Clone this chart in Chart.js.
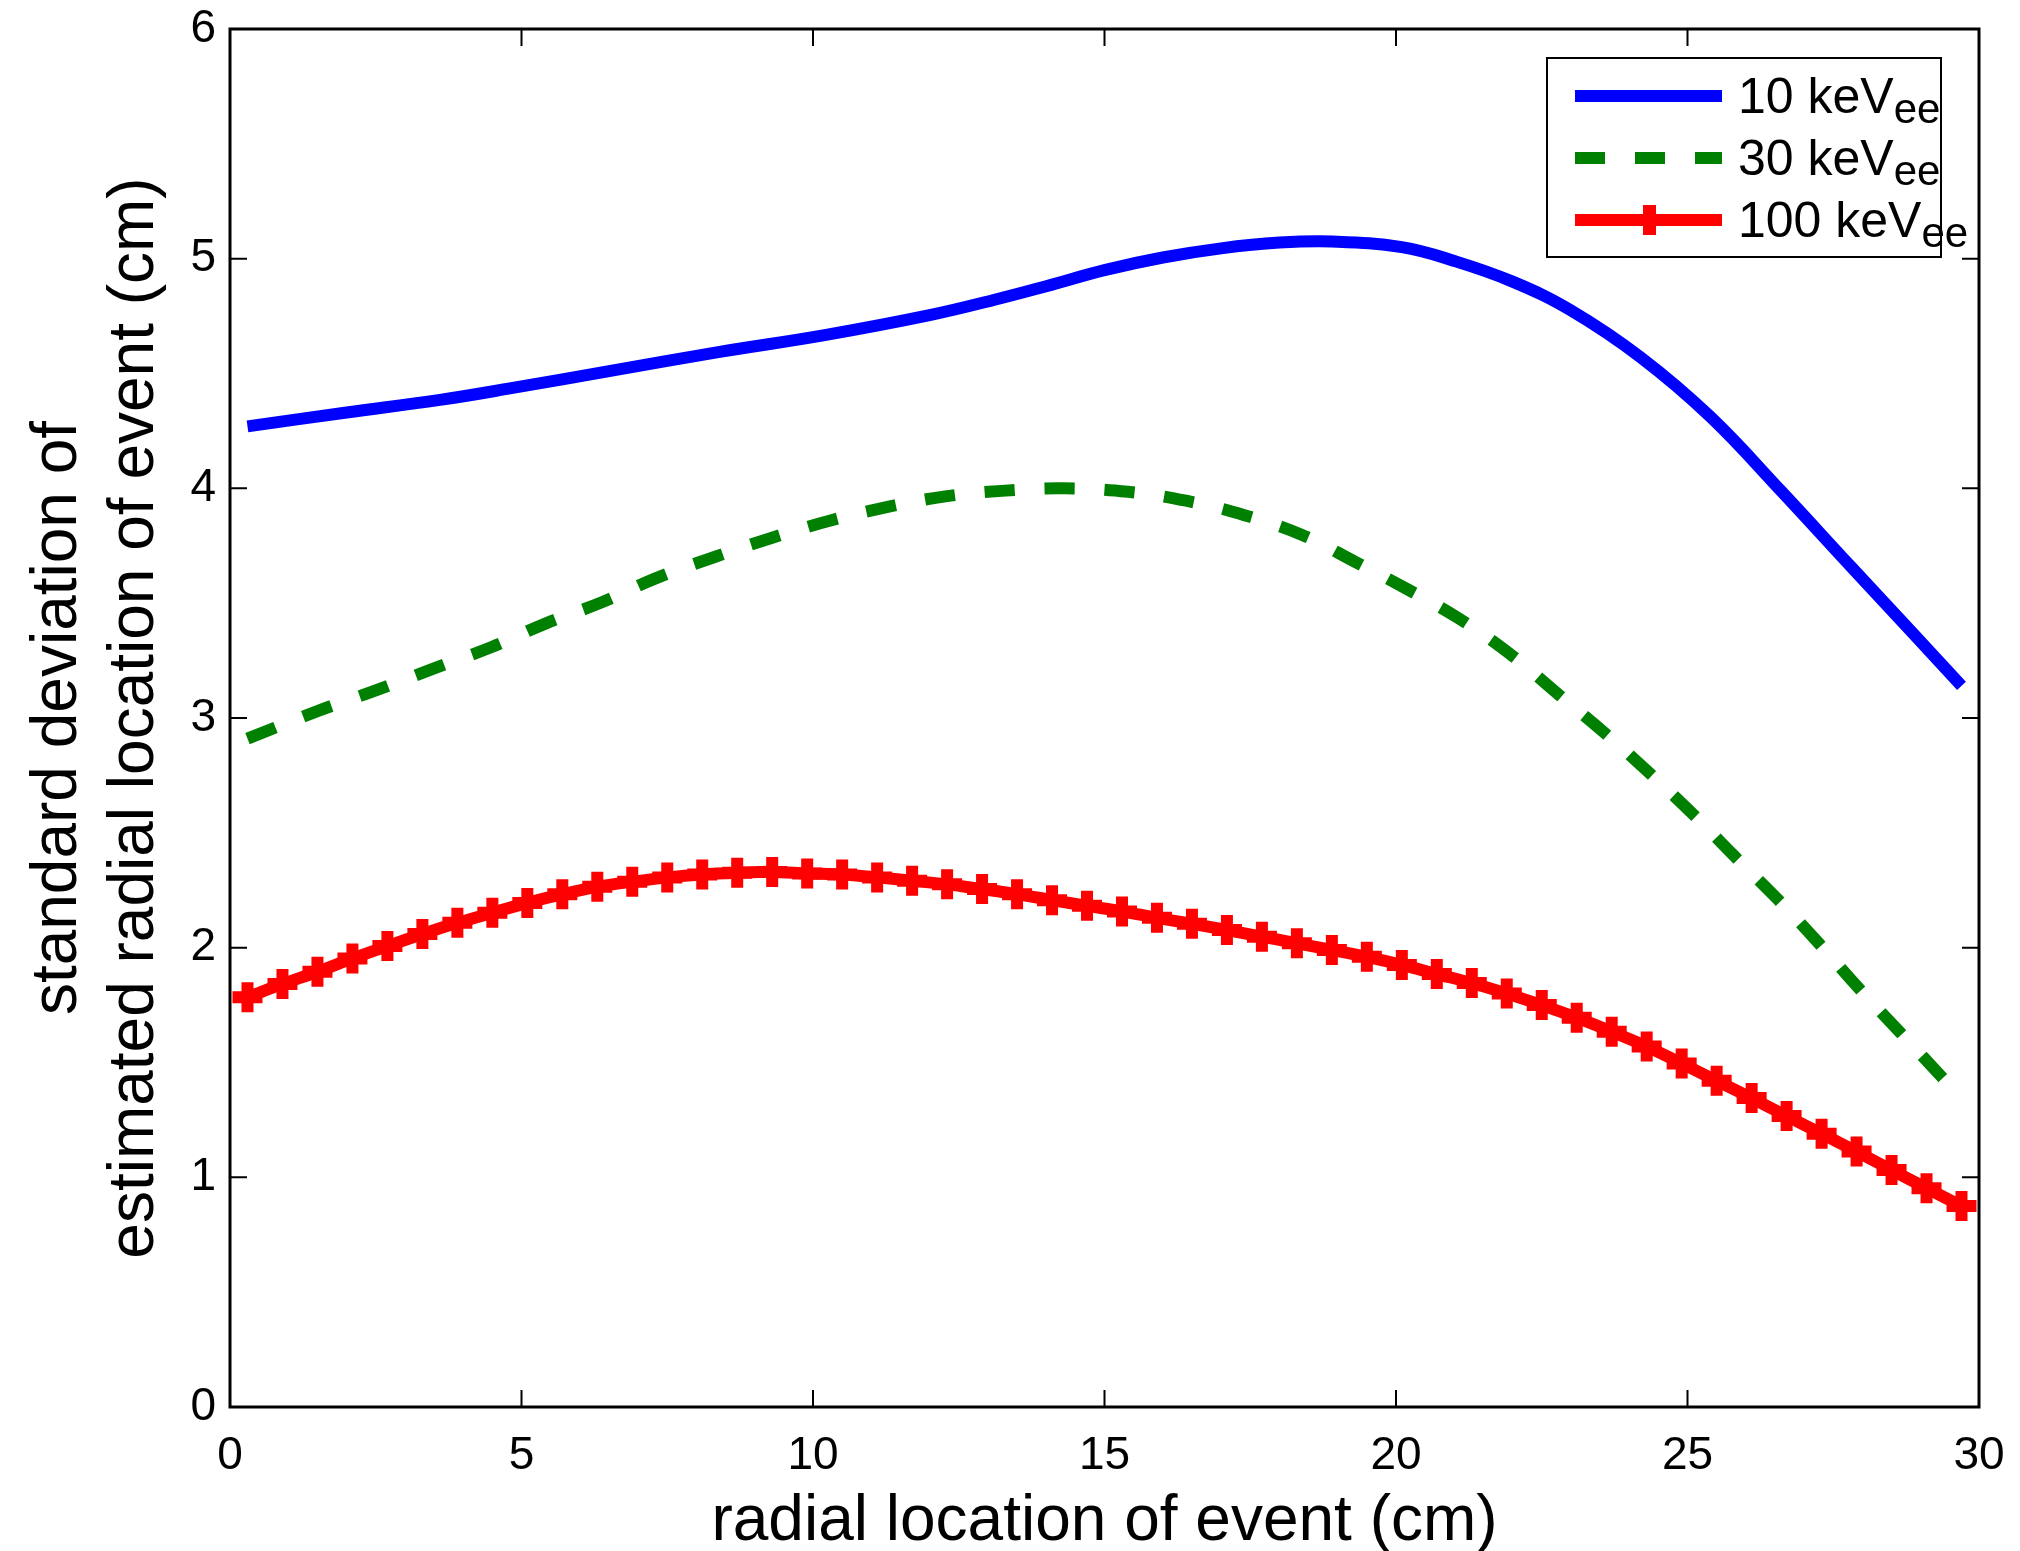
<!DOCTYPE html>
<html>
<head>
<meta charset="utf-8">
<script src="https://cdn.jsdelivr.net/npm/chart.js@4.4.1/dist/chart.umd.min.js"></script>
<style>
  body { margin: 0; background: #fff; }
  #wrap { position: relative; width: 2020px; height: 1551px; }
  #legend {
    position: absolute; left: 1546px; top: 57px; width: 392px; height: 197px;
    border: 2px solid #000; background: #fff;
    font-family: "Liberation Sans", Arial, sans-serif; color: #000;
  }
  .sample { position: absolute; left: 27px; width: 147px; height: 12px; }
  .mark { position: absolute; left: 95px; width: 13px; height: 30px; }
  .label { position: absolute; left: 190px; font-size: 50px; line-height: 50px; white-space: nowrap; }
  .label sub { font-size: 42px; vertical-align: -10px; line-height: 0; }
</style>
</head>
<body>
<div id="wrap">
  <canvas id="grafico" width="2020" height="1551"></canvas>
  <div id="legend"></div>
</div>
<script>
// 10 keVee
const r10 = [0.3, 2.0, 3.6, 4.8, 6.6, 8.4, 10.2, 12.0, 13.1, 14.0, 15.0, 16.0, 17.0, 18.0, 18.9, 20.1, 21.0, 22.0, 23.0, 24.2, 25.4, 26.6, 27.8, 28.9, 29.7];
const sigma10 = [4.27, 4.33, 4.385, 4.435, 4.515, 4.594, 4.667, 4.754, 4.82, 4.88, 4.95, 5.005, 5.045, 5.07, 5.075, 5.05, 4.99, 4.90, 4.775, 4.57, 4.31, 3.99, 3.66, 3.36, 3.14];

// 30 keVee
const r30 = [0.3, 1.5, 2.5, 3.5, 4.5, 5.4, 6.4, 7.3, 8.3, 9.3, 10.3, 11.3, 12.3, 13.3, 14.3, 15.4, 16.4, 17.4, 18.4, 19.3, 20.2, 21.1, 22.0, 22.8, 23.6, 24.35, 25.1, 25.8, 26.55, 27.25, 27.95, 28.65, 29.35, 29.7];
const sigma30 = [2.91, 3.03, 3.12, 3.216, 3.31, 3.41, 3.506, 3.608, 3.70, 3.785, 3.86, 3.92, 3.966, 3.99, 4.0, 3.985, 3.946, 3.883, 3.796, 3.68, 3.56, 3.43, 3.27, 3.10, 2.93, 2.76, 2.58, 2.40, 2.21, 2.02, 1.82, 1.63, 1.44, 1.34];

// 100 keVee
const r100 = [0.3, 0.9, 1.5, 2.1, 2.7, 3.3, 3.9, 4.5, 5.1, 5.7, 6.3, 6.9, 7.5, 8.1, 8.7, 9.3, 9.9, 10.5, 11.1, 11.7, 12.3, 12.9, 13.5, 14.1, 14.7, 15.3, 15.9, 16.5, 17.1, 17.7, 18.3, 18.9, 19.5, 20.1, 20.7, 21.3, 21.9, 22.5, 23.1, 23.7, 24.3, 24.9, 25.5, 26.1, 26.7, 27.3, 27.9, 28.5, 29.1, 29.7];
const sigma100 = [1.784, 1.842, 1.895, 1.953, 2.007, 2.059, 2.108, 2.152, 2.195, 2.233, 2.265, 2.287, 2.306, 2.319, 2.326, 2.330, 2.323, 2.319, 2.306, 2.291, 2.276, 2.255, 2.233, 2.207, 2.182, 2.158, 2.130, 2.104, 2.077, 2.048, 2.019, 1.99, 1.96, 1.925, 1.885, 1.846, 1.80, 1.75, 1.695, 1.634, 1.57, 1.496, 1.42, 1.345, 1.267, 1.19, 1.112, 1.032, 0.953, 0.875];

const seriesNames = ['10 keV', '30 keV', '100 keV'];
const seriesSub = 'ee';
const xTicks = [0, 5, 10, 15, 20, 25, 30];
const yTicks = [0, 1, 2, 3, 4, 5, 6];
const xTitle = 'radial location of event (cm)';
const yTitle = ['standard deviation of', 'estimated radial location of event (cm)'];

const fonte = '"Liberation Sans", Arial, Helvetica, sans-serif';

function pares(xs, ys) {
  return xs.map((x, i) => ({x: x, y: ys[i]}));
}

/* moldura com ticks para dentro, estilo matlab */
const moldura = {
  id: 'moldura',
  afterDatasetsDraw(chart) {
    const {ctx, chartArea: a, scales: {x, y}} = chart;
    ctx.save();
    ctx.strokeStyle = '#000';
    ctx.lineWidth = 2;
    ctx.beginPath();
    xTicks.forEach(v => {
      const px = x.getPixelForValue(v);
      ctx.moveTo(px, a.bottom); ctx.lineTo(px, a.bottom - 17);
      ctx.moveTo(px, a.top); ctx.lineTo(px, a.top + 17);
    });
    yTicks.forEach(v => {
      const py = y.getPixelForValue(v);
      ctx.moveTo(a.left, py); ctx.lineTo(a.left + 17, py);
      ctx.moveTo(a.right, py); ctx.lineTo(a.right - 17, py);
    });
    ctx.stroke();
    ctx.lineWidth = 3;
    ctx.strokeRect(a.left, a.top, a.right - a.left, a.bottom - a.top);
    ctx.restore();
  }
};

/* legenda em html, por causa do subscrito */
const legendaHtml = {
  id: 'legendaHtml',
  afterUpdate(chart) {
    const caixa = document.getElementById('legend');
    caixa.innerHTML = '';
    const centros = [37, 99, 161];
    chart.data.datasets.forEach((ds, i) => {
      const c = centros[i];
      const amostra = document.createElement('div');
      amostra.className = 'sample';
      amostra.style.top = (c - 6) + 'px';
      if (ds.borderDash && ds.borderDash.length) {
        amostra.style.background = 'repeating-linear-gradient(to right, ' + ds.borderColor + ' 0 30px, transparent 30px 60px)';
      } else {
        amostra.style.background = ds.borderColor;
      }
      caixa.appendChild(amostra);
      if (ds.pointRadius > 0) {
        const marca = document.createElement('div');
        marca.className = 'mark';
        marca.style.top = (c - 15) + 'px';
        marca.style.background = ds.borderColor;
        caixa.appendChild(marca);
      }
      const texto = document.createElement('div');
      texto.className = 'label';
      texto.style.top = (c - 25) + 'px';
      texto.innerHTML = ds.label + '<sub>' + seriesSub + '</sub>';
      caixa.appendChild(texto);
    });
  }
};

const ctx = document.getElementById('grafico');

new Chart(ctx, {
  type: 'line',
  data: {
    datasets: [
      {
        label: seriesNames[0],
        data: pares(r10, sigma10),
        borderColor: '#0000ff',
        borderWidth: 12,
        pointRadius: 0,
        tension: 0.4
      },
      {
        label: seriesNames[1],
        data: pares(r30, sigma30),
        borderColor: '#008000',
        borderWidth: 12,
        borderDash: [30, 30],
        pointRadius: 0,
        tension: 0.4
      },
      {
        label: seriesNames[2],
        data: pares(r100, sigma100),
        borderColor: '#ff0000',
        backgroundColor: '#ff0000',
        borderWidth: 12,
        pointStyle: 'cross',
        pointRadius: 15,
        pointBorderWidth: 12,
        pointBorderColor: '#ff0000',
        tension: 0.3
      }
    ]
  },
  options: {
    responsive: false,
    animation: false,
    events: [],
    layout: {
      padding: {top: 29, right: 41, left: 0, bottom: 0}
    },
    plugins: {
      legend: {display: false},
      tooltip: {enabled: false}
    },
    scales: {
      x: {
        type: 'linear',
        min: 0,
        max: 30,
        afterBuildTicks: s => { s.ticks = xTicks.map(v => ({value: v})); },
        afterFit: s => { s.height = 144; s.paddingLeft = 0; s.paddingRight = 0; },
        grid: {display: false, drawTicks: false},
        border: {display: false},
        ticks: {
          padding: 22,
          color: '#000',
          font: {family: fonte, size: 46}
        },
        title: {
          display: true,
          text: xTitle,
          color: '#000',
          font: {family: fonte, size: 64, lineHeight: 1.2},
          padding: {top: 0, bottom: -10}
        }
      },
      y: {
        type: 'linear',
        min: 0,
        max: 6,
        afterBuildTicks: s => { s.ticks = yTicks.map(v => ({value: v})); },
        afterFit: s => { s.width = 230; s.paddingTop = 0; s.paddingBottom = 0; },
        grid: {display: false, drawTicks: false},
        border: {display: false},
        ticks: {
          padding: 14,
          color: '#000',
          font: {family: fonte, size: 46}
        },
        title: {
          display: true,
          text: yTitle,
          color: '#000',
          font: {family: fonte, size: 64, lineHeight: 1.2},
          padding: {top: 20, bottom: 0}
        }
      }
    }
  },
  plugins: [moldura, legendaHtml]
});
</script>
</body>
</html>
